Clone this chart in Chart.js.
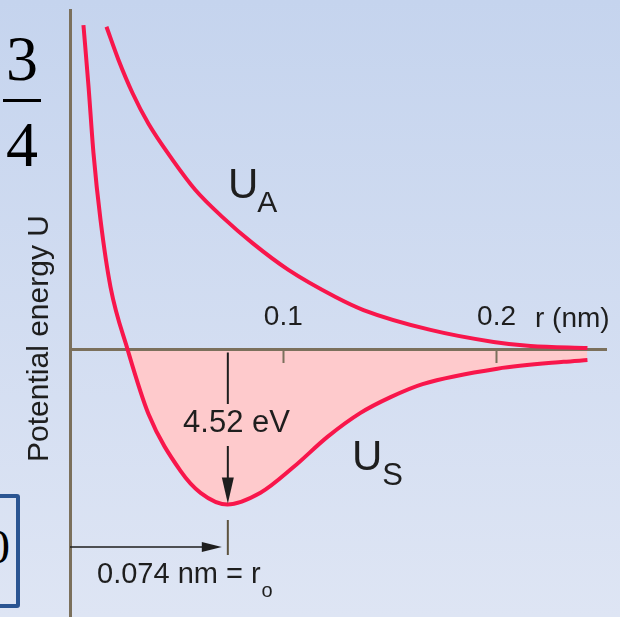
<!DOCTYPE html>
<html>
<head>
<meta charset="utf-8">
<script src="https://cdn.jsdelivr.net/npm/chart.js@4/dist/chart.umd.min.js"></script>
<style>
  html, body { margin: 0; padding: 0; width: 620px; height: 617px; overflow: hidden; }
  body { position: relative; background: linear-gradient(#c5d4ee, #dee5f4); font-family: "Liberation Serif", serif; color: #000; }
  #wrap { position: absolute; left: 0; top: 0; width: 620px; height: 667px; }
  .num { position: absolute; left: 0; width: 44px; text-align: center; font-size: 64px; line-height: 64px; }
  #bar { position: absolute; left: 3px; top: 99px; width: 38px; height: 3px; background: #000; }
  #box { position: absolute; left: -32px; top: 494px; width: 44px; height: 106px; border: 4px solid #2b5592; border-radius: 3px; overflow: hidden; }
  #box span { position: absolute; left: 14px; top: 25px; font-size: 48px; line-height: 48px; }
</style>
</head>
<body>
<div class="num" style="top:27px">3</div>
<div id="bar"></div>
<div class="num" style="top:113px">4</div>
<div id="box"><span>0</span></div>
<div id="wrap"><canvas id="chart"></canvas></div>
<script>
// separation r (nm) and potential energy U (eV)
let rS = [0.0063, 0.0087, 0.0110, 0.0143, 0.0190, 0.0270, 0.0368, 0.0518, 0.0612, 0.0738, 0.0893, 0.1048, 0.1207, 0.1362, 0.1503, 0.1653, 0.2004, 0.2314, 0.2426]
let uS = [9.46, 7.66, 5.73, 3.78, 1.82, 0, -1.88, -3.54, -4.18, -4.52, -4.18, -3.43, -2.55, -1.85, -1.39, -1.01, -0.56, -0.36, -0.31]
let rA = [0.0171, 0.0227, 0.0293, 0.0368, 0.0481, 0.0588, 0.0715, 0.0856, 0.1024, 0.1245, 0.1376, 0.1690, 0.1986, 0.2159, 0.2426]
let uA = [9.41, 8.45, 7.48, 6.58, 5.53, 4.65, 3.86, 3.10, 2.32, 1.53, 1.15, 0.57, 0.22, 0.10, 0.04]
let xTicks = [0.1, 0.2]
let r0 = 0.074
let depth = -4.52

const red = '#f8164b'
const axisColor = '#7b705c'
const ink = '#1e1e1e'
const sans = '"Liberation Sans", Arial, Helvetica, sans-serif'

const notes = {
    id: 'notes',
    afterDraw(chart) {
        const ctx = chart.ctx
        const x = chart.scales.x, y = chart.scales.y
        const x0 = x.getPixelForValue(r0)
        const y0 = y.getPixelForValue(0)
        const yMin = y.getPixelForValue(depth)
        const text = (s, tx, ty, size, align) => {
            ctx.font = size + 'px ' + sans
            ctx.textAlign = align || 'left'
            ctx.textBaseline = 'alphabetic'
            ctx.fillText(s, tx, ty)
            return ctx.measureText(s).width
        }
        ctx.save()
        ctx.fillStyle = ink
        ctx.strokeStyle = ink

        // well depth arrow
        ctx.lineWidth = 2
        ctx.beginPath()
        ctx.moveTo(x0, y0 + 3); ctx.lineTo(x0, 404)
        ctx.moveTo(x0, 446); ctx.lineTo(x0, yMin - 20)
        ctx.stroke()
        ctx.beginPath()
        ctx.moveTo(x0 - 6, yMin - 27); ctx.lineTo(x0 + 6, yMin - 27); ctx.lineTo(x0, yMin - 1)
        ctx.closePath(); ctx.fill()
        text('4.52 eV', 236.5, 432, 31, 'center')

        // r0 arrow
        ctx.lineWidth = 1.5
        ctx.beginPath()
        ctx.moveTo(x.left, 547); ctx.lineTo(x0 - 14, 547)
        ctx.stroke()
        ctx.beginPath()
        ctx.moveTo(x0 - 26, 542); ctx.lineTo(x0 - 26, 552); ctx.lineTo(x0 - 6, 547)
        ctx.closePath(); ctx.fill()
        ctx.strokeStyle = '#5d533f'
        ctx.lineWidth = 2
        ctx.beginPath()
        ctx.moveTo(x0, 520); ctx.lineTo(x0, 555)
        ctx.stroke()
        let w = text('0.074 nm = r', 97, 583, 29)
        text('o', 97 + w + 1, 597, 20)

        // curve labels and axis name
        w = text('U', 228, 198, 42)
        text('A', 228 + w - 1, 212, 30)
        w = text('U', 352, 470, 42)
        text('S', 352 + w, 485, 31)
        text('r (nm)', 535, 327, 28)
        ctx.restore()
    }
}

let ctx = document.getElementById('chart').getContext('2d')
let chart = new Chart(ctx, {
    type: 'line',
    data: {
        datasets: [{
            label: 'US',
            data: rS.map((r, i) => ({x: r, y: uS[i]})),
            borderColor: red,
            borderWidth: 4,
            pointRadius: 0,
            cubicInterpolationMode: 'monotone',
            fill: {target: {value: 0}, above: 'rgba(0,0,0,0)', below: '#fecacc'}
        }, {
            label: 'UA',
            data: rA.map((r, i) => ({x: r, y: uA[i]})),
            borderColor: red,
            borderWidth: 4,
            pointRadius: 0,
            cubicInterpolationMode: 'monotone',
            fill: false
        }]
    },
    options: {
        responsive: true,
        maintainAspectRatio: false,
        animation: false,
        layout: {
            padding: {left: 18, top: 10, right: 14, bottom: 0}
        },
        plugins: {
            legend: {display: false},
            tooltip: {enabled: false},
            filler: {drawTime: 'beforeDraw'}
        },
        scales: {
            x: {
                type: 'linear',
                min: 0,
                max: 0.2513,
                position: {y: 0},
                afterBuildTicks: scale => { scale.ticks = xTicks.map(v => ({value: v})) },
                ticks: {
                    font: {size: 28, family: sans},
                    color: ink,
                    padding: -61,
                    maxRotation: 0,
                    autoSkip: false
                },
                grid: {
                    drawOnChartArea: false,
                    tickLength: 12,
                    tickWidth: 2,
                    tickColor: axisColor
                },
                border: {color: axisColor, width: 3}
            },
            y: {
                type: 'linear',
                min: -9.26,
                max: 9.9,
                ticks: {display: false},
                grid: {drawOnChartArea: false, drawTicks: false},
                border: {color: axisColor, width: 3},
                title: {
                    display: true,
                    text: 'Potential energy U',
                    font: {size: 30, family: sans, lineHeight: 1.2},
                    color: ink,
                    padding: {top: 4, bottom: 12}
                }
            }
        }
    },
    plugins: [notes]
})
</script>
</body>
</html>
